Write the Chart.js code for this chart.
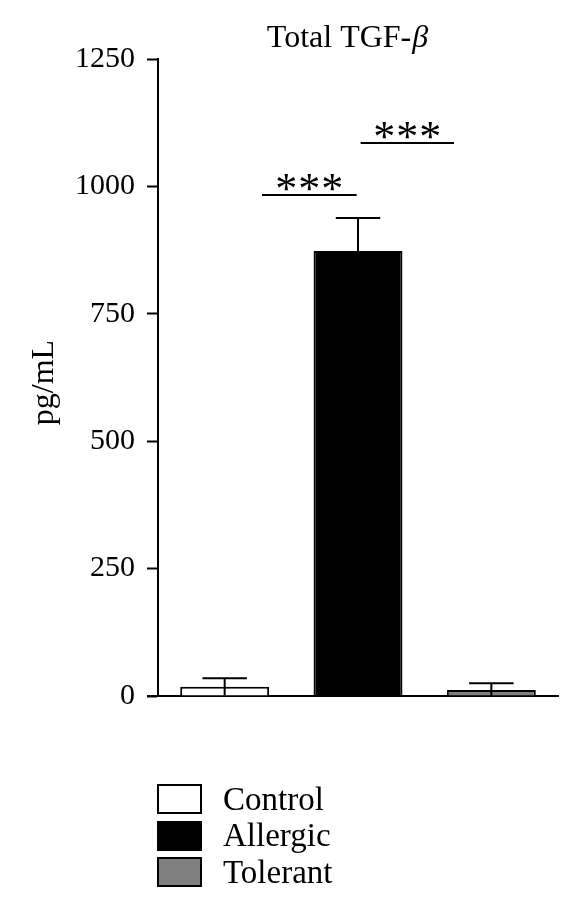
<!DOCTYPE html>
<html>
<head>
<meta charset="utf-8">
<script src="https://cdn.jsdelivr.net/npm/chart.js@4"></script>
<style>
	body { margin:0; background:#fff; }
	#wrap { position:relative; width:580px; height:914px; }
	#legend { position:absolute; left:157px; top:781px; font:33px "Liberation Serif", serif; color:#000; }
	#legend div { display:flex; align-items:center; height:36.5px; }
	#legend span.box { display:inline-block; width:41px; height:26px; border:2px solid #000; margin-right:21px; }
</style>
</head>
<body>
<div id="wrap">
	<canvas id="c" width="580" height="914"></canvas>
	<div id="legend"></div>
</div>
<script>
const groups = ['Control', 'Allergic', 'Tolerant'];
const means = [18, 873, 12];
const sds = [17, 65, 13];
const colors = ['#ffffff', '#000000', '#808080'];
const yTicks = [0, 250, 500, 750, 1000, 1250];
// significance brackets: [from index, to index, level (pg/mL)]
const brackets = [[0.28, 0.99, 983], [1.02, 1.72, 1085]];
const serif = '"Liberation Serif", serif';

const extras = {
	id:'extras',
	afterDatasetsDraw(chart) {
		const ctx = chart.ctx, y = chart.scales.y, x = chart.scales.x, area = chart.chartArea;
		const meta = chart.getDatasetMeta(0);
		ctx.save();
		ctx.strokeStyle = '#000'; ctx.lineWidth = 2;
		// error bars
		meta.data.forEach((bar, i) => {
			const hi = y.getPixelForValue(means[i] + sds[i]);
			const lo = y.getPixelForValue(Math.max(0, means[i] - sds[i]));
			const half = bar.width * 0.25;
			ctx.beginPath();
			ctx.moveTo(bar.x, lo); ctx.lineTo(bar.x, hi);
			ctx.moveTo(bar.x - half, hi); ctx.lineTo(bar.x + half, hi);
			ctx.stroke();
		});
		// x axis extension to the left
		ctx.beginPath();
		ctx.moveTo(area.left - 11, y.getPixelForValue(0)); ctx.lineTo(area.left, y.getPixelForValue(0));
		ctx.stroke();
		// brackets with stars
		ctx.font = '44px ' + serif; ctx.fillStyle = '#000'; ctx.textAlign = 'center'; ctx.textBaseline = 'alphabetic';
		const m = ctx.measureText('*');
		const mid = (m.actualBoundingBoxAscent - m.actualBoundingBoxDescent) / 2;
		brackets.forEach(([a, b, v]) => {
			const x1 = x.getPixelForValue(a), x2 = x.getPixelForValue(b), py = y.getPixelForValue(v);
			ctx.beginPath(); ctx.moveTo(x1, py); ctx.lineTo(x2, py); ctx.stroke();
			const cx = (x1 + x2) / 2;
			for (let k = -1; k <= 1; k++) ctx.fillText('*', cx + k * 23, py - 13 + mid);
		});
		// title
		ctx.textAlign = 'left';
		const t1 = 'Total TGF-';
		ctx.font = '32px ' + serif;
		const w1 = ctx.measureText(t1).width;
		ctx.font = 'italic 32px ' + serif;
		const w2 = ctx.measureText('β').width;
		const tx = (area.left + area.right) / 2 - 11 - (w1 + w2) / 2;
		ctx.font = '32px ' + serif;
		ctx.fillText(t1, tx, 47);
		ctx.font = 'italic 32px ' + serif;
		ctx.fillText('β', tx + w1 + 1, 47);
		// y label
		ctx.font = '32px ' + serif;
		ctx.translate(area.left - 105, (area.top + area.bottom) / 2 + 5);
		ctx.rotate(-Math.PI / 2);
		ctx.textAlign = 'center'; ctx.textBaseline = 'alphabetic';
		ctx.fillText('pg/mL', 0, 0);
		ctx.restore();
	}
};

new Chart(document.getElementById('c'), {
	type:'bar',
	data:{ labels: groups, datasets:[{ data: means, backgroundColor: colors, borderColor:'#000', borderWidth:2, barPercentage:0.667, categoryPercentage:1 }] },
	options:{
		responsive:false, animation:false,
		layout:{ padding:{ left:0, right:22, top:59, bottom:218 } },
		plugins:{ legend:{ display:false }, tooltip:{ enabled:false } },
		scales:{
			x:{
				grid:{ display:false },
				ticks:{ display:false },
				border:{ display:true, color:'#000', width:2 },
				afterFit(s){ s.height = 0; }
			},
			y:{
				min:0, max:1250,
				afterBuildTicks(s){ s.ticks = yTicks.map(v => ({ value:v })); },
				afterFit(s){ s.width = 158; },
				grid:{ drawOnChartArea:false, drawTicks:true, tickLength:11, tickWidth:2, color:'#000' },
				border:{ display:true, color:'#000', width:2 },
				ticks:{ color:'#000', font:{ family:'Liberation Serif', size:30 }, padding:12, callback:(v) => String(v) }
			}
		}
	},
	plugins:[extras]
});

const legend = document.getElementById('legend');
groups.forEach((g, i) => {
	const row = document.createElement('div');
	row.innerHTML = `<span class="box" style="background:${colors[i]}"></span>${g}`;
	legend.appendChild(row);
});
</script>
</body>
</html>
